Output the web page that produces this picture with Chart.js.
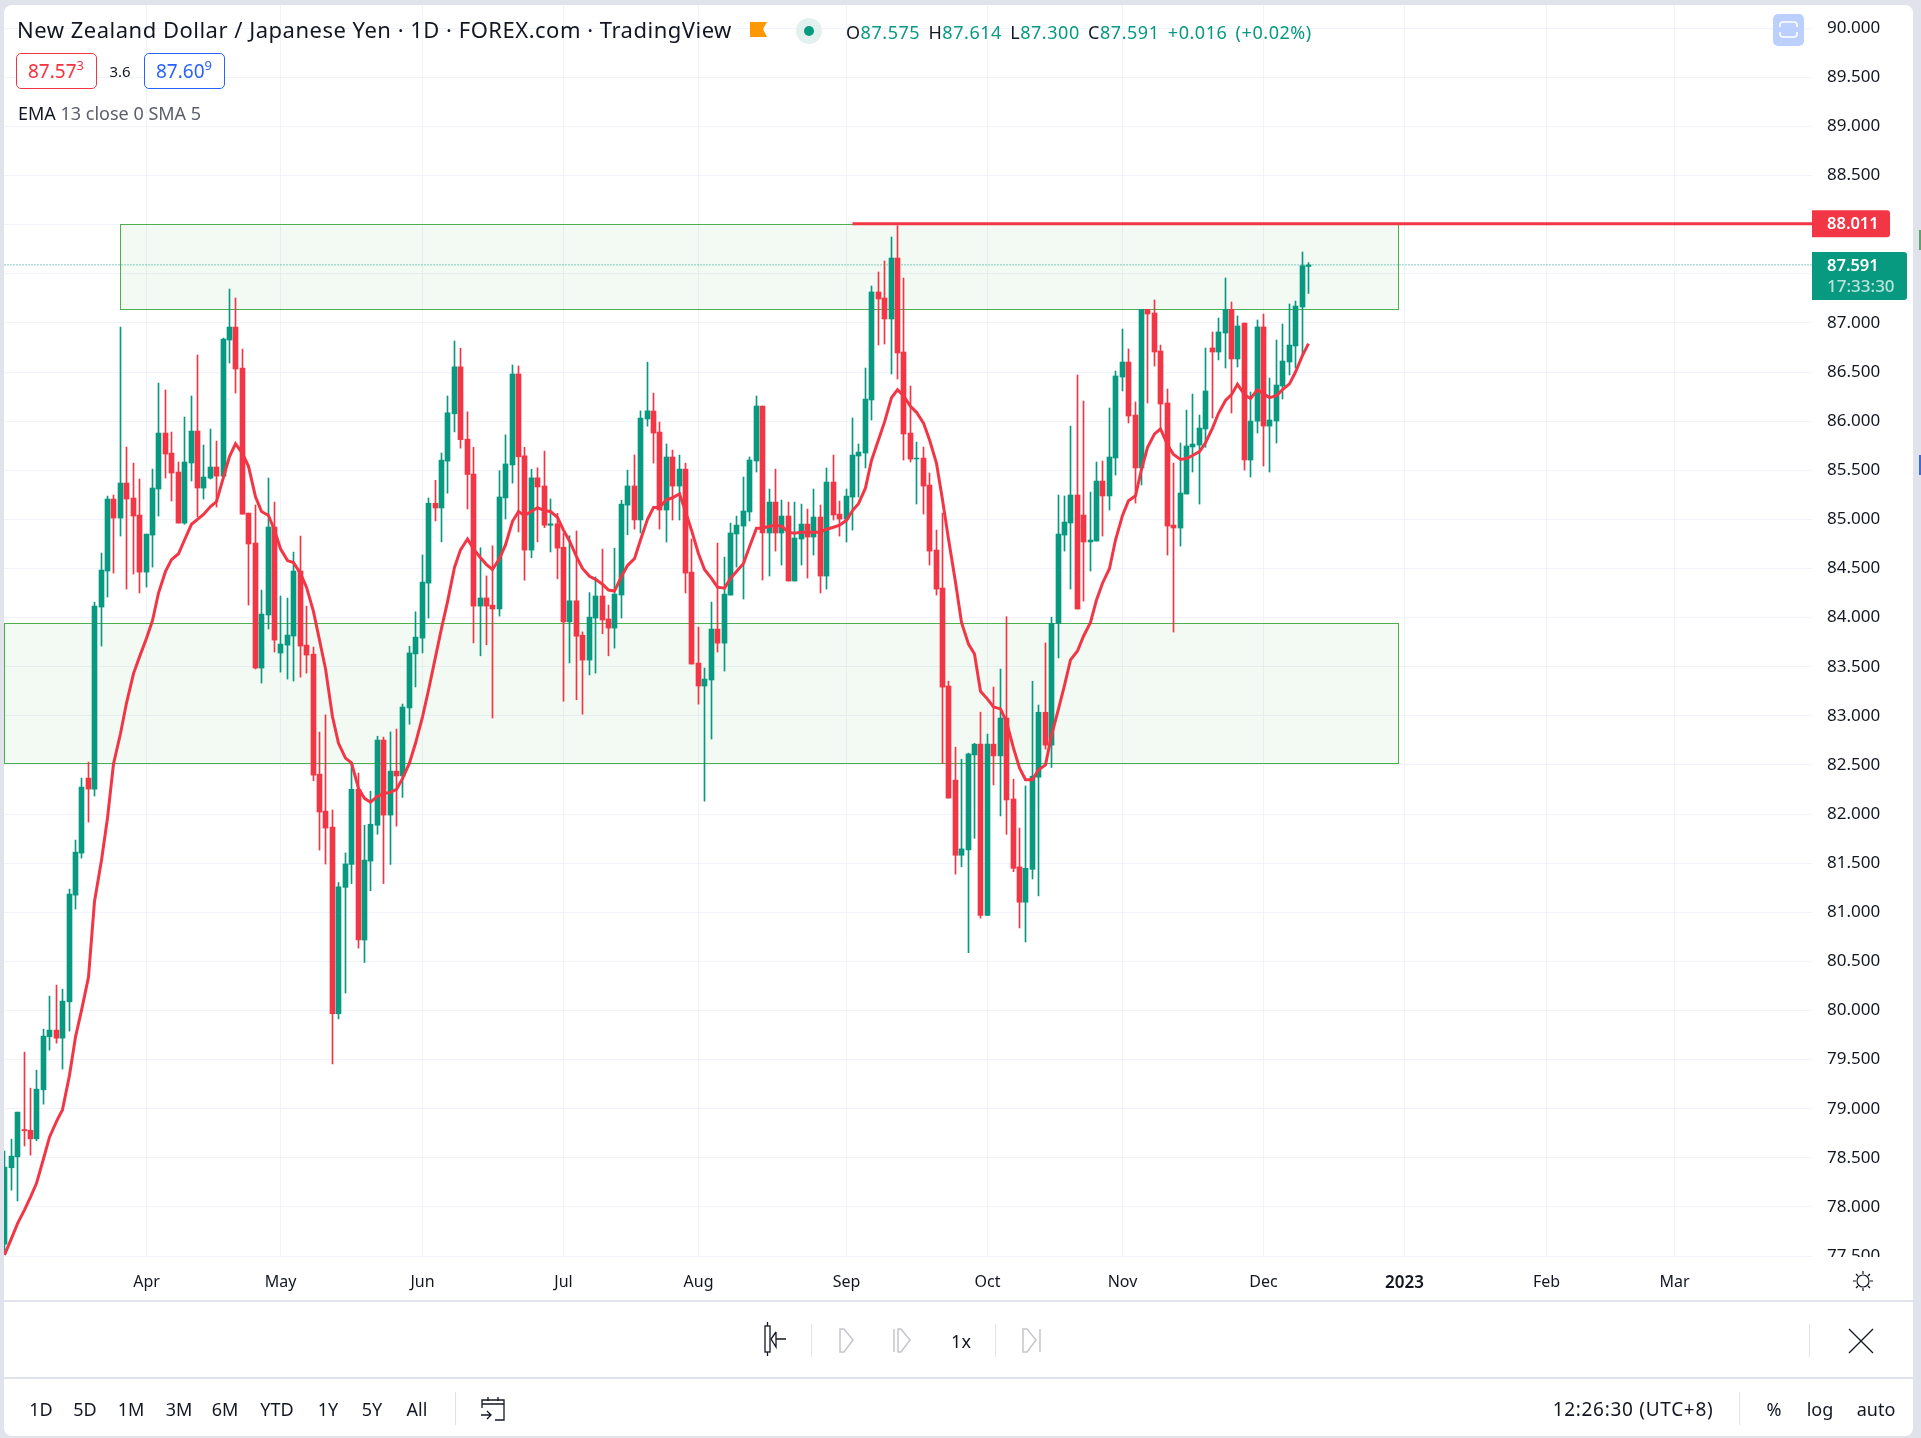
<!DOCTYPE html>
<html><head><meta charset="utf-8">
<script src="https://cdn.jsdelivr.net/npm/chart.js@4"></script>
<style>
html,body{margin:0;padding:0;background:#e0e3eb;width:1921px;height:1438px;overflow:hidden}
body{font-family:"Noto Sans",sans-serif;color:#131722;position:relative}
#panel{position:absolute;left:4px;top:5px;width:1909px;height:1431px;background:#fff;border-radius:8px}
canvas{position:absolute;left:0;top:0}
.c,.l{position:absolute;white-space:nowrap;line-height:1}
.c{transform:translate(-50%,-50%)}
.l{transform:translateY(-50%)}
.hr{position:absolute;left:4px;width:1909px;height:2px;background:#e0e3eb}
.vr{position:absolute;width:1px;background:#e0e3eb}
.b{position:absolute;border-radius:5px;background:#fff;box-sizing:border-box}
.bar{font-size:18px}
svg{position:absolute;overflow:visible}
</style></head><body>
<div id="panel"></div>
<canvas id="c" width="1921" height="1438" style="width:1921px;height:1438px"></canvas>
<div style="position:absolute;left:1813px;top:1257px;width:99px;height:15px;background:#fff"></div>

<div class="l" id="title" style="left:17px;top:29px;font-size:22px;letter-spacing:.5px">New Zealand Dollar / Japanese Yen · 1D · FOREX.com · TradingView</div>
<svg style="left:750px;top:22px" width="18" height="16"><path d="M0 0H17L13 7L17 15H0Z" fill="#ff9800"/></svg>
<svg style="left:795px;top:17px" width="28" height="28"><circle cx="14" cy="14" r="13" fill="#e3f1ee"/><circle cx="14" cy="14" r="5" fill="#089981"/></svg>
<div class="l" id="ohlc" style="left:846px;top:32px;font-size:18px;letter-spacing:.55px;word-spacing:3px;color:#089981">
<span style="color:#131722">O</span>87.575 <span style="color:#131722">H</span>87.614 <span style="color:#131722">L</span>87.300 <span style="color:#131722">C</span>87.591 +0.016 (+0.02%)</div>

<div class="b" style="left:16px;top:53px;width:81px;height:36px;border:1px solid #f23645"></div>
<div class="c" style="left:56px;top:71px;font-size:19px;color:#f23645">87.57<sup style="font-size:13px;line-height:0">3</sup></div>
<div class="c" style="left:120px;top:71px;font-size:15px">3.6</div>
<div class="b" style="left:144px;top:53px;width:81px;height:36px;border:1px solid #2962ff"></div>
<div class="c" style="left:184px;top:71px;font-size:19px;color:#2962ff">87.60<sup style="font-size:13px;line-height:0">9</sup></div>
<div class="l" style="left:18px;top:113px;font-size:18px;color:#5d606b"><span style="color:#131722">EMA</span> 13 close 0 SMA 5</div>

<div style="position:absolute;left:1773px;top:14px;width:31px;height:32px;background:#bbd0ff;border-radius:5px"></div>
<svg style="left:1780px;top:22px" width="18" height="16" fill="none" stroke="#fff" stroke-width="1.6"><path d="M0 5V3Q0 0 3 0H14Q17 0 17 3V5M0 10V12Q0 15 3 15H14Q17 15 17 12V10"/></svg>

<svg style="left:1853px;top:1271px" width="20" height="20" fill="none" stroke="#131722" stroke-width="1.2"><circle cx="10" cy="10" r="6"/><path d="M10 0V3M10 17V20M0 10H3M17 10H20M3 3L5 5M15 15L17 17M17 3L15 5M5 15L3 17"/></svg>

<div class="hr" style="top:1300px"></div>
<div class="hr" style="top:1377px"></div>

<svg style="left:762px;top:1322px" width="34" height="36" fill="none" stroke="#131722" stroke-width="1.3"><rect x="3" y="4" width="5" height="26" fill="#fff"/><path d="M5.5 0V4M5.5 30V34M24 17H14M14 10L9 17L14 25V10" /></svg>
<div class="vr" style="left:811px;top:1324px;height:33px"></div>
<svg style="left:838px;top:1328px" width="18" height="25" fill="none" stroke="#c4c6cc" stroke-width="1.5"><path d="M2 1H6L15 12L6 24H2Z"/></svg>
<svg style="left:893px;top:1328px" width="20" height="25" fill="none" stroke="#c4c6cc" stroke-width="1.5"><path d="M1 1V24M5 1H8L17 12L8 24H5Z"/></svg>
<div class="c" style="left:961px;top:1341px;font-size:18px">1x</div>
<div class="vr" style="left:995px;top:1324px;height:33px"></div>
<svg style="left:1022px;top:1328px" width="20" height="25" fill="none" stroke="#c4c6cc" stroke-width="1.5"><path d="M1 1H5L14 12L5 24H1ZM18 1V24"/></svg>
<div class="vr" style="left:1809px;top:1324px;height:33px"></div>
<svg style="left:1849px;top:1329px" width="24" height="24" fill="none" stroke="#131722" stroke-width="1.3"><path d="M0 0L24 24M24 0L0 24"/></svg>

<div class="c bar" style="left:41px;top:1409px">1D</div>
<div class="c bar" style="left:85px;top:1409px">5D</div>
<div class="c bar" style="left:131px;top:1409px">1M</div>
<div class="c bar" style="left:179px;top:1409px">3M</div>
<div class="c bar" style="left:225px;top:1409px">6M</div>
<div class="c bar" style="left:277px;top:1409px">YTD</div>
<div class="c bar" style="left:328px;top:1409px">1Y</div>
<div class="c bar" style="left:372px;top:1409px">5Y</div>
<div class="c bar" style="left:417px;top:1409px">All</div>
<div class="vr" style="left:455px;top:1392px;height:33px"></div>
<svg style="left:481px;top:1396px" width="24" height="26" fill="none" stroke="#131722" stroke-width="1.3"><path d="M1 12V4H23V24H14M1 8H23M7 1V5M17 1V5M0 19H10M6 15L10 19L6 23"/></svg>
<div class="c bar" style="left:1633px;top:1409px;font-size:19px;letter-spacing:.7px">12:26:30 (UTC+8)</div>
<div class="vr" style="left:1739px;top:1392px;height:33px"></div>
<div class="c bar" style="left:1774px;top:1409px">%</div>
<div class="c bar" style="left:1820px;top:1409px">log</div>
<div class="c bar" style="left:1876px;top:1409px">auto</div>
<div style="position:absolute;left:1919px;top:230px;width:2px;height:20px;background:#5ea36a"></div>
<div style="position:absolute;left:1919px;top:455px;width:2px;height:20px;background:#3d6cd8"></div>

<script>
const monthLabels=['Apr','May','Jun','Jul','Aug','Sep','Oct','Nov','Dec','2023','Feb','Mar'];
const monthIndex=[22,43,65,87,108,131,153,174,196,218,240,260];
const priceMin=77.5, priceMax=90.237, indexMin=-0.047, indexMax=281.48;

/* values in trading-day order */
const openValues=[77.62,78.398,78.51,78.788,78.78,78.693,79.192,79.732,79.80,79.718,
80.088,81.174,81.602,82.366,82.254,84.107,84.474,85.207,85.013,85.37,
85.217,85.044,84.463,84.84,85.309,85.879,85.675,85.482,84.962,85.574,
85.899,85.319,85.42,85.533,85.441,86.826,86.958,86.541,85.064,84.759,
83.486,84.026,84.922,83.639,83.72,83.812,84.474,83.72,83.628,82.406,
82.03,81.867,79.967,81.253,81.487,82.252,80.717,81.521,81.886,82.753,
81.989,82.437,82.388,83.08,83.63,83.791,84.351,85.164,85.116,85.593,
86.075,86.553,85.817,85.462,84.117,84.2,84.127,84.088,85.218,85.554,
86.48,85.647,84.687,85.423,85.34,84.94,84.955,84.717,83.956,84.171,
83.82,83.567,83.995,84.22,83.986,83.893,84.229,85.145,85.34,84.994,
86.022,86.103,85.889,85.095,85.635,85.339,85.512,84.463,83.537,83.303,
83.364,83.883,83.74,84.229,84.851,84.932,85.075,85.594,86.154,84.861,
85.176,84.861,85.034,84.372,84.8,84.952,84.82,85.024,84.423,85.38,
85.054,85.003,85.227,85.645,85.675,86.215,87.315,87.254,87.04,87.661,
86.704,85.879,85.615,85.624,85.349,84.688,84.301,83.303,82.345,81.58,
81.635,82.602,82.711,80.968,82.711,82.592,82.977,82.153,81.462,81.102,
81.437,82.375,83.036,82.701,83.941,84.84,84.963,85.248,85.044,84.77,
84.779,85.39,85.238,85.625,86.449,86.602,86.062,85.523,87.138,87.101,
86.714,86.185,84.942,84.912,85.258,85.737,85.757,85.92,86.745,86.704,
86.897,87.138,86.633,86.999,85.604,86.0,86.959,85.95,86.001,86.358,
86.602,86.765,87.162,87.575];
const closeValues=[78.405,78.517,78.965,78.775,78.693,79.199,79.739,79.80,79.718,80.095,
81.185,81.612,82.274,82.254,84.117,84.484,85.207,85.013,85.37,85.207,
85.034,84.463,84.85,85.319,85.879,85.665,85.472,84.962,85.584,85.899,
85.319,85.431,85.533,85.441,86.836,86.958,86.531,85.054,84.749,83.486,
84.036,84.922,83.771,83.73,83.822,84.474,83.71,83.618,82.396,82.02,
81.857,79.967,81.258,81.492,82.252,80.717,81.531,81.896,82.753,81.989,
82.437,82.388,83.089,83.64,83.801,84.361,85.164,85.116,85.603,86.085,
86.553,85.812,85.457,84.117,84.2,84.117,84.088,85.228,85.564,86.48,
85.637,84.687,85.423,85.33,84.94,84.955,84.707,83.956,84.171,83.81,
83.567,84.005,84.22,83.976,83.893,84.239,85.155,85.34,84.994,86.031,
86.105,85.879,85.095,85.635,85.339,85.512,84.453,83.527,83.303,83.374,
83.883,83.74,84.239,84.861,84.942,85.085,85.604,86.154,84.861,85.176,
84.861,85.034,84.372,84.81,84.952,84.82,85.024,84.423,85.38,85.044,
85.003,85.237,85.655,85.685,86.225,87.315,87.244,87.04,87.661,86.694,
85.869,85.614,85.624,85.339,84.677,84.29,83.292,82.162,81.58,81.645,
82.612,82.711,80.968,82.711,82.592,82.977,82.143,81.447,81.102,81.447,
82.385,83.036,82.701,83.94,84.851,84.973,85.248,84.087,84.769,84.79,
85.39,85.238,85.635,86.46,86.602,86.052,85.523,87.138,87.091,86.704,
86.174,84.932,84.912,85.268,85.747,85.767,85.93,86.307,86.704,86.908,
87.138,86.633,86.969,85.604,86.001,86.959,85.95,86.012,86.368,86.612,
86.775,87.172,87.583,87.591];
const highValues=[78.568,78.69,78.965,79.576,79.209,79.392,79.81,80.146,80.258,80.217,
81.236,81.735,82.366,82.529,84.158,84.657,85.237,85.248,86.958,85.736,
85.573,85.411,84.85,85.512,86.388,86.317,85.889,85.584,86.042,86.256,
86.673,85.757,85.92,85.797,86.846,87.345,87.254,86.734,85.064,85.146,
84.28,85.421,85.176,84.219,84.199,84.667,84.83,84.117,83.7,82.834,
83.01,82.042,81.302,81.604,82.524,82.417,81.886,82.232,82.792,82.783,
82.836,82.865,83.119,83.708,84.059,84.638,85.218,85.398,85.676,86.256,
86.816,86.743,86.095,85.734,84.711,84.424,84.731,85.496,85.861,86.572,
86.562,85.734,85.51,85.525,85.695,85.208,85.062,84.858,84.833,84.882,
83.854,84.254,84.414,84.697,84.127,84.707,85.194,85.501,85.656,86.105,
86.601,86.286,85.991,85.767,85.706,85.655,85.573,84.8,83.903,83.486,
84.158,84.759,84.616,84.962,85.034,85.431,85.635,86.256,86.154,85.309,
85.512,85.197,85.176,85.176,85.156,85.105,85.309,85.146,85.523,85.655,
85.186,85.309,86.032,85.767,86.541,87.376,87.519,87.631,87.875,87.99,
87.457,86.358,85.787,85.736,85.472,84.891,85.064,83.353,82.681,82.558,
82.62,82.72,83.037,82.814,83.293,83.476,84.009,82.355,81.857,82.286,
83.352,83.11,83.742,84.004,85.248,85.238,85.95,86.47,86.205,85.278,
85.584,85.594,86.134,86.51,86.938,86.735,86.195,87.138,87.138,87.234,
86.775,86.327,85.574,85.777,86.113,86.276,86.062,86.745,86.908,87.05,
87.458,87.213,87.071,86.999,86.297,87.03,87.091,86.439,86.826,86.989,
87.193,87.223,87.722,87.614];
const lowValues=[77.55,78.17,78.06,78.62,78.527,78.673,79.046,79.596,79.667,79.403,
79.789,81.032,81.551,81.918,82.183,83.71,84.209,84.453,84.83,84.29,
84.443,84.25,84.311,84.514,85.034,85.421,85.187,84.962,84.95,85.39,
85.024,85.207,85.411,85.125,85.441,86.592,86.286,85.054,84.127,83.476,
83.333,83.883,83.649,83.445,83.374,83.354,83.394,83.435,82.339,81.633,
81.49,79.456,79.914,80.177,81.292,80.634,80.488,81.219,81.794,81.292,
81.487,81.877,82.169,82.914,83.294,83.64,83.995,84.984,84.77,85.267,
85.89,85.725,85.106,83.742,83.611,83.723,82.977,84.015,85.004,85.369,
84.872,84.38,84.609,84.77,84.916,84.668,84.395,83.148,83.538,83.163,
83.016,83.416,83.435,83.835,83.611,83.689,83.995,84.843,84.901,84.862,
85.949,85.573,84.901,84.769,84.993,84.993,84.25,83.527,83.119,82.131,
82.763,83.649,83.455,84.229,84.514,84.189,84.983,85.482,84.382,84.423,
84.677,84.535,84.372,84.372,84.535,84.402,84.637,84.25,84.29,84.993,
84.83,84.769,84.891,85.227,85.523,86.011,86.775,86.785,86.48,86.429,
85.604,85.584,85.156,85.054,84.535,84.229,82.515,82.162,81.388,81.462,
80.588,81.753,80.939,80.968,82.296,81.98,81.793,81.413,80.84,80.697,
81.339,81.166,82.661,82.474,83.589,84.677,84.291,84.087,84.168,84.474,
84.779,84.83,85.095,85.451,86.307,85.981,85.166,85.35,86.185,86.561,
85.929,84.637,83.853,84.728,85.258,85.482,85.156,85.733,86.032,86.623,
86.541,86.083,86.551,85.502,85.431,85.879,85.543,85.482,85.777,86.225,
86.47,86.541,86.673,87.30];
const emaValues=[77.51,77.68,77.83,77.97,78.10,78.24,78.49,78.71,78.87,78.99,
79.34,79.73,80.0,80.34,81.11,81.53,81.96,82.51,82.82,83.13,
83.43,83.60,83.79,83.97,84.25,84.47,84.59,84.65,84.79,84.95,
85.0,85.05,85.13,85.18,85.43,85.64,85.77,85.67,85.54,85.23,
85.08,85.04,84.89,84.70,84.58,84.56,84.45,84.31,84.06,83.77,
83.48,82.99,82.72,82.57,82.52,82.26,82.16,82.12,82.18,82.21,
82.22,82.25,82.36,82.52,82.72,82.99,83.26,83.60,83.89,84.16,
84.51,84.69,84.80,84.70,84.61,84.54,84.49,84.60,84.74,84.98,
85.08,85.04,85.08,85.12,85.09,85.08,85.02,84.89,84.78,84.62,
84.50,84.42,84.39,84.34,84.28,84.27,84.42,84.53,84.60,84.79,
85.0,85.12,85.12,85.20,85.22,85.26,85.08,84.89,84.65,84.49,
84.40,84.31,84.30,84.40,84.47,84.55,84.72,84.91,84.91,84.93,
84.94,84.93,84.87,84.86,84.87,84.87,84.87,84.87,84.90,84.92,
84.94,84.99,85.09,85.16,85.32,85.60,85.81,85.99,86.24,86.32,
86.26,86.15,86.09,85.98,85.81,85.57,85.20,84.80,84.36,83.95,
83.73,83.63,83.25,83.17,83.09,83.07,82.94,82.67,82.47,82.35,
82.35,82.45,82.50,82.80,83.07,83.31,83.57,83.66,83.81,83.95,
84.18,84.35,84.50,84.79,85.04,85.19,85.24,85.51,85.73,85.87,
85.92,85.76,85.66,85.61,85.62,85.65,85.69,85.78,85.93,86.08,
86.21,86.27,86.375,86.27,86.23,86.32,86.28,86.24,86.26,86.32,
86.38,86.50,86.67,86.79];

const zoneStart=[18,indexMin], zoneEnd=[217,217], zoneTop=[88.011,83.941], zoneBottom=[87.138,82.515];
const levelStart=132, levelPrice=88.011, lastPrice=87.591;
const UP='#089981', DOWN='#f23645';
const FONT='"Noto Sans",sans-serif';
const candleColor=ctx=>closeValues[ctx.dataIndex]>=openValues[ctx.dataIndex]?UP:DOWN;

const zones={id:'zones',beforeDatasetsDraw(ch){
  const {ctx,scales:{x,y},chartArea:a}=ch;
  ctx.save();ctx.beginPath();ctx.rect(a.left,a.top,a.width,a.height);ctx.clip();
  zoneStart.forEach((s,i)=>{
    const l=x.getPixelForValue(s),r=x.getPixelForValue(zoneEnd[i]);
    const t=Math.round(y.getPixelForValue(zoneTop[i]))+.5,b=Math.round(y.getPixelForValue(zoneBottom[i]))+.5;
    ctx.fillStyle='rgba(76,175,80,0.065)';ctx.fillRect(l,t,r-l,b-t);
    ctx.strokeStyle='#4caf50';ctx.lineWidth=1;ctx.strokeRect(l,t,r-l,b-t);
  });
  ctx.restore();
}};
const priceTags={id:'priceTags',afterDraw(ch){
  const {ctx,scales:{y},chartArea:a}=ch;
  const box=(x0,y0,w,h,c)=>{ctx.fillStyle=c;ctx.beginPath();ctx.roundRect(x0,y0,w,h,[0,3,3,0]);ctx.fill();};
  ctx.save();ctx.textBaseline='middle';ctx.textAlign='left';
  const py=y.getPixelForValue(levelPrice);
  box(a.right,py-13.5,78,27,DOWN);
  ctx.fillStyle='#fff';ctx.font='600 16.5px '+FONT;ctx.fillText(levelPrice.toFixed(3),a.right+15,py+.5);
  const ly=y.getPixelForValue(lastPrice);
  box(a.right,ly-13,95,48,UP);
  ctx.fillStyle='#fff';ctx.fillText(lastPrice.toFixed(3),a.right+15,ly+1);
  ctx.fillStyle='rgba(255,255,255,.72)';ctx.font='500 17px '+FONT;ctx.fillText('17:33:30',a.right+15,ly+22);
  ctx.restore();
}};
const noPad=s=>{s.paddingTop=s.paddingBottom=s.paddingLeft=s.paddingRight=0;};

new Chart(document.getElementById('c'),{
  type:'bar',
  plugins:[zones,priceTags],
  data:{datasets:[
    {type:'line',order:1,data:[{x:levelStart,y:levelPrice},{x:indexMax,y:levelPrice}],borderColor:DOWN,borderWidth:3,pointRadius:0},
    {type:'line',order:2,data:emaValues.map((v,i)=>({x:i,y:v})),borderColor:DOWN,borderWidth:3,pointRadius:0,tension:0},
    {order:3,grouped:false,barThickness:5,borderWidth:0,backgroundColor:candleColor,data:openValues.map((o,i)=>({x:i,y:[o,closeValues[i]]}))},
    {order:4,grouped:false,barThickness:1,borderWidth:0,backgroundColor:candleColor,data:lowValues.map((l,i)=>({x:i,y:[l,highValues[i]]}))},
    {type:'line',order:5,data:[{x:indexMin,y:lastPrice},{x:indexMax,y:lastPrice}],borderColor:UP,borderWidth:1,borderDash:[1,2],pointRadius:0}
  ]},
  options:{
    responsive:false,devicePixelRatio:1,animation:false,
    layout:{padding:{left:4,top:5,right:0,bottom:0}},
    plugins:{legend:{display:false},tooltip:{enabled:false}},
    scales:{
      x:{type:'linear',min:indexMin,max:indexMax,offset:false,
        afterBuildTicks(s){s.ticks=monthIndex.map(v=>({value:v}));},
        afterFit(s){s.height=182;noPad(s);
          if(!s._snap){s._snap=true;const g=s.getPixelForValue.bind(s);s.getPixelForValue=v=>Math.round(g(v))+.5;}
        },
        grid:{color:'#f0f3fa',drawTicks:false,offset:false},border:{display:false},
        ticks:{autoSkip:false,maxRotation:0,padding:17,color:'#131722',
          font:c=>({family:FONT,size:c.tick&&c.tick.value===218?17:16,weight:c.tick&&c.tick.value===218?'600':'400'}),
          callback:v=>monthLabels[monthIndex.indexOf(v)]}
      },
      y:{type:'linear',position:'right',min:priceMin,max:priceMax,
        afterFit(s){s.width=109;noPad(s);},
        grid:{color:'#f0f3fa',drawTicks:false},border:{display:false},
        ticks:{stepSize:.5,includeBounds:false,padding:15,color:'#131722',font:{family:FONT,size:17},
          callback:v=>v.toFixed(3)}
      }
    }
  }
});
</script>
</body></html>
